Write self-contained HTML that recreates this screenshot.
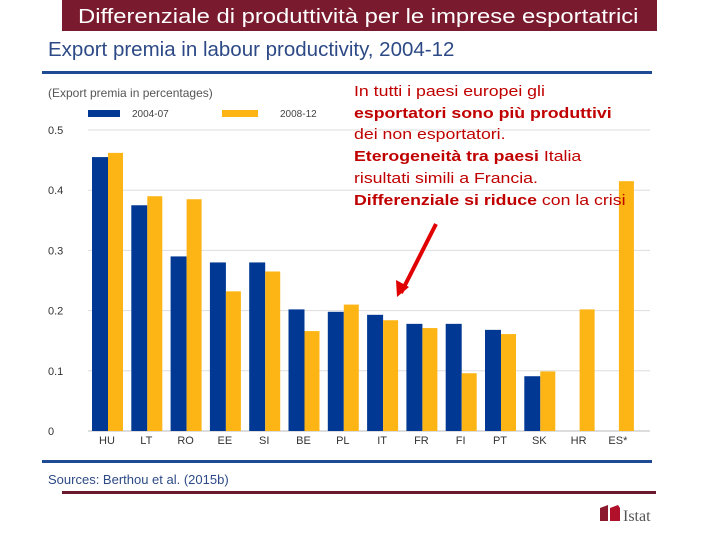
<!DOCTYPE html>
<html><head><meta charset="utf-8"><style>
body{margin:0;width:720px;height:540px;background:#fff;font-family:"Liberation Sans",sans-serif;overflow:hidden;position:relative}
.a{position:absolute}
</style></head><body>
<div class="a" style="left:62px;top:0;width:595px;height:31px;background:#7a1a2e;"></div>
<div class="a" style="left:78px;top:5px;color:#fff;font-size:20px;line-height:24px;white-space:nowrap;transform:scaleX(1.19);transform-origin:left top">Differenziale di produttività per le imprese esportatrici</div>
<div class="a" style="left:48px;top:38px;font-size:20.5px;color:#2d4a86;white-space:nowrap">Export premia in labour productivity, 2004-12</div>
<div class="a" style="left:42px;top:71px;width:610px;height:3px;background:#1f4a94"></div>
<svg class="a" style="left:0;top:0" width="720" height="540" id="chart">
<text x="48" y="97" font-size="12" fill="#555">(Export premia in percentages)</text>
<rect x="88" y="110" width="32" height="7" fill="#003893"/>
<text x="132" y="117" font-size="10" fill="#444">2004-07</text>
<rect x="222" y="110" width="36" height="7" fill="#fdb515"/>
<text x="280" y="117" font-size="10" fill="#444">2008-12</text>
<g id="grid"></g><g id="bars"></g>
<path d="M436,224 L401,293" stroke="#e00000" stroke-width="4"/>
<path d="M397,297 L396,280 L409,287 Z" fill="#e00000"/>
<rect x="42" y="460" width="610" height="3" fill="#1f4a94"/>
<text x="48" y="484" font-size="13" fill="#2d4a86">Sources: Berthou et al. (2015b)</text>
<rect x="62" y="491" width="594" height="3" fill="#6b1a2e"/>
<path d="M600,508 L608,505 L608,521 L600,521 Z" fill="#8b1a2e"/>
<path d="M610,508 L618,505 L620,508 L620,521 L610,521 Z" fill="#b0102a"/>
<text x="623" y="521" font-size="16" font-family="Liberation Serif" fill="#555">Istat</text>
</svg>
<div class="a" style="left:354px;top:81px;z-index:2;font-size:15px;line-height:21.7px;color:#c00000;white-space:nowrap;transform:scaleX(1.18);transform-origin:left top">In tutti i paesi europei gli<br><b>esportatori sono più produttivi</b><br>dei non esportatori.<br><b>Eterogeneità tra paesi</b> Italia<br>risultati simili a Francia.<br><b>Differenziale si riduce</b> con la crisi</div>
<script>
const categories=["HU","LT","RO","EE","SI","BE","PL","IT","FR","FI","PT","SK","HR","ES*"];
const s2004=[0.455,0.375,0.29,0.28,0.28,0.202,0.198,0.193,0.178,0.178,0.168,0.091,null,null];
const s2008=[0.462,0.39,0.385,0.232,0.265,0.166,0.21,0.184,0.171,0.096,0.161,0.099,0.202,0.415];
const ticks=[0,0.1,0.2,0.3,0.4,0.5];
const tickLabels=["0","0.1","0.2","0.3","0.4","0.5"];
const NS="http://www.w3.org/2000/svg";
function y(v){return 431-v*602;}
function x(i){return 92+i*39.3;}
const grid=document.getElementById('grid'),bars=document.getElementById('bars');
ticks.forEach((t,i)=>{
 const l=document.createElementNS(NS,'line');
 l.setAttribute('x1',88);l.setAttribute('x2',650);l.setAttribute('y1',y(t));l.setAttribute('y2',y(t));
 l.setAttribute('stroke',i==0?'#bbb':'#ddd');
 
 
 grid.appendChild(l);
 const tx=document.createElementNS(NS,'text');
 tx.setAttribute('x',48);tx.setAttribute('y',y(t)+4);tx.setAttribute('font-size',11);tx.setAttribute('fill','#333');
 tx.textContent=tickLabels[i];
 
 
 grid.appendChild(tx);
});
categories.forEach((c,i)=>{
 [[s2004[i],'#003893',0],[s2008[i],'#fdb515',16]].forEach(([v,col,off])=>{
  if(v==null)return;
  const r=document.createElementNS(NS,'rect');
  r.setAttribute('x',x(i)+off);r.setAttribute('width',off?15:16);
  r.setAttribute('y',y(v));r.setAttribute('height',y(0)-y(v));r.setAttribute('fill',col);
  
  
  bars.appendChild(r);
 });
 const t=document.createElementNS(NS,'text');
 t.setAttribute('x',x(i)+15);t.setAttribute('y',444);t.setAttribute('font-size',11);t.setAttribute('fill','#333');t.setAttribute('text-anchor','middle');
 t.textContent=c;
 
 
 bars.appendChild(t);
});
</script>
</body></html>
